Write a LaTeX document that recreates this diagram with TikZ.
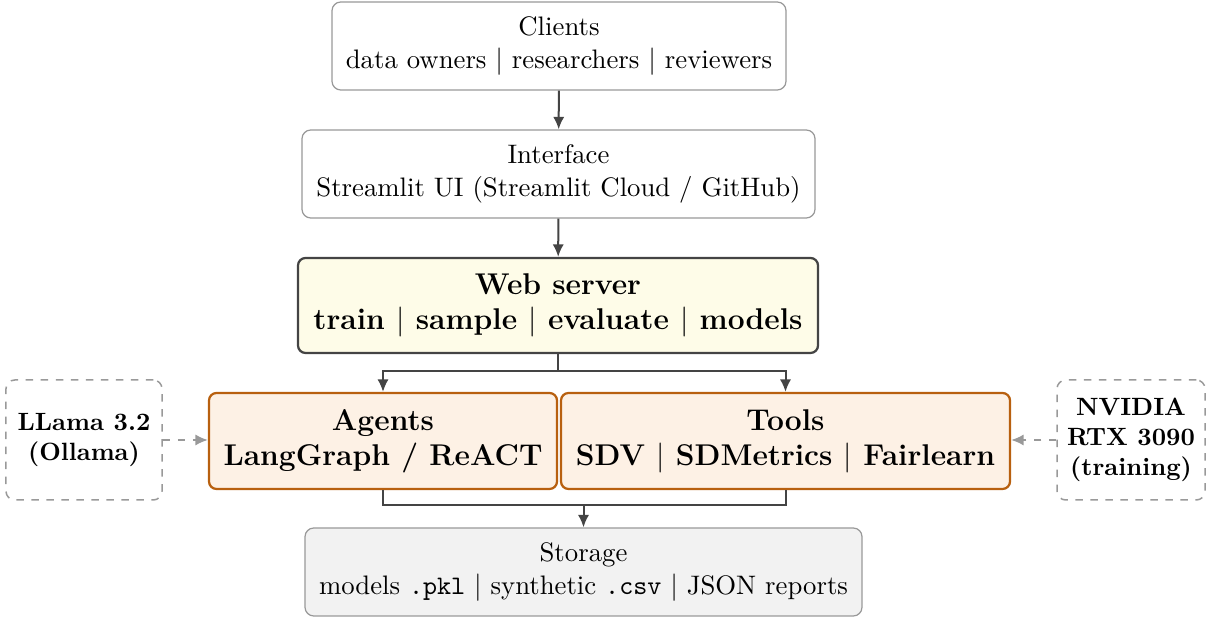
\documentclass[tikz,border=0pt]{standalone}
\usetikzlibrary{arrows.meta,calc}
\definecolor{arrowc}{HTML}{444444}
\definecolor{boxgray}{HTML}{999999}
\definecolor{webfill}{HTML}{FEFCE8}
\definecolor{orangeb}{HTML}{B8600F}
\definecolor{orangef}{HTML}{FDF1E5}
\definecolor{storefill}{HTML}{F2F2F2}
\definecolor{dashc}{HTML}{999999}
\begin{document}
\begin{tikzpicture}[x=0.4pt,y=-0.4pt,
  plainbox/.style={draw=boxgray, line width=0.5pt, rounded corners=3.5pt, align=center, inner sep=0pt, fill=white, font=\fontsize{10.7}{13}\selectfont},
  webbox/.style={draw=arrowc, line width=0.9pt, rounded corners=3pt, align=center, inner sep=0pt, fill=webfill, font=\large\bfseries},
  orbox/.style={draw=orangeb, line width=0.9pt, rounded corners=3pt, align=center, inner sep=0pt, fill=orangef, font=\large\bfseries},
  hwbox/.style={draw=dashc, dashed, line width=0.6pt, rounded corners=3.5pt, align=center, inner sep=0pt, font=\bfseries},
  arr/.style={draw=arrowc, line width=0.8pt, -{Latex[length=5pt,width=4.5pt]}},
  link/.style={draw=arrowc, line width=0.8pt},
  dasharr/.style={draw=dashc, dashed, line width=0.8pt, -{Latex[length=5pt,width=4.5pt]}}]
\useasboundingbox (0,0) rectangle (1207,617);
\node[plainbox, minimum width=181.6pt, minimum height=35.2pt] (clients) at (559,46)
  {Clients\\data owners $|$ researchers $|$ reviewers};
\node[plainbox, minimum width=205.2pt, minimum height=35.2pt] (interface) at (558.5,174)
  {Interface\\Streamlit UI (Streamlit Cloud / GitHub)};
\node[webbox, minimum width=208pt, minimum height=38pt] (web) at (558,305.5)
  {Web server\\train $|$ sample $|$ evaluate $|$ models};
\node[orbox, minimum width=139.2pt, minimum height=38.4pt] (agents) at (383,441)
  {Agents\\LangGraph / ReACT};
\node[orbox, minimum width=179.6pt, minimum height=38.4pt] (tools) at (785.5,441)
  {Tools\\SDV $|$ SDMetrics $|$ Fairlearn};
\node[hwbox, minimum width=62.4pt, minimum height=48pt] (llama) at (84,440)
  {LLama 3.2\\(Ollama)};
\node[hwbox, minimum width=59.2pt, minimum height=48pt] (nvidia) at (1131,440)
  {NVIDIA\\RTX 3090\\(training)};
\node[plainbox, fill=storefill, minimum width=222.8pt, minimum height=35.2pt] (storage) at (583.5,572)
  {Storage\\models \texttt{.pkl} $|$ synthetic \texttt{.csv} $|$ JSON reports};
\draw[arr] (clients) -- (interface);
\draw[arr] (interface) -- (web);
\coordinate (split) at ($(web.south)+(0,17)$);
\draw[arr] (web.south) -- (split) -| (agents.north);
\draw[arr] (split) -| (tools.north);
\coordinate (join) at (583.5,505);
\draw[link] (agents.south) |- (join) -| (tools.south);
\draw[arr] (join) -- (storage.north);
\draw[dasharr] (llama.east) -- (llama.east -| agents.west);
\draw[dasharr] (nvidia.west) -- (nvidia.west -| tools.east);
\end{tikzpicture}
\end{document}
